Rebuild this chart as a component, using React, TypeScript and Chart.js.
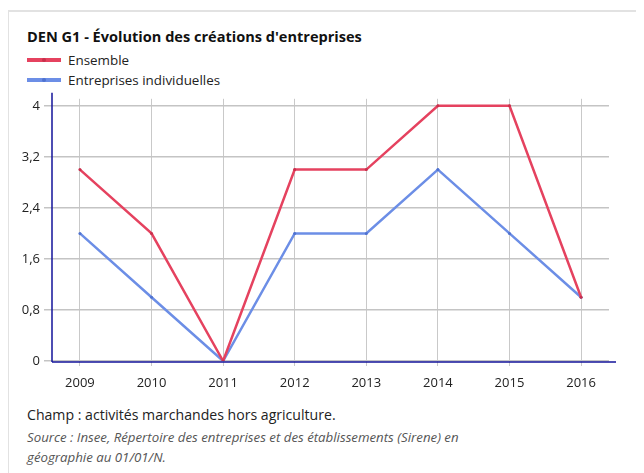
import React, { useEffect, useRef } from "react";
import { Chart, registerables } from "chart.js";

Chart.register(...registerables);

const titleText = "DEN G1 - Évolution des créations d'entreprises";
const years = [2009, 2010, 2011, 2012, 2013, 2014, 2015, 2016];
const ensemble = [3, 2, 0, 3, 3, 4, 4, 1];
const individuelles = [2, 1, 0, 2, 2, 3, 2, 1];
const seriesNames = ["Ensemble", "Entreprises individuelles"];
const seriesColors = ["#e5425f", "#6c8ee6"];
const pointColors = ["#c8304c", "#4f72d0"];
const yTicks = [0, 0.8, 1.6, 2.4, 3.2, 4];
const footerChamp = "Champ : activités marchandes hors agriculture.";
const footerSource1 = "Source : Insee, Répertoire des entreprises et des établissements (Sirene) en";
const footerSource2 = "géographie au 01/01/N.";

const FONT = "'Open Sans', 'Noto Sans', sans-serif";

const axisLines = {
  id: "axisLines",
  beforeDatasetsDraw(chart: any) {
    const { ctx, chartArea } = chart;
    ctx.save();
    ctx.strokeStyle = "#15159a";
    ctx.lineWidth = 1.5;
    ctx.beginPath();
    ctx.moveTo(chartArea.left, chartArea.top - 6);
    ctx.lineTo(chartArea.left, chartArea.bottom + 1);
    ctx.moveTo(chartArea.left, chartArea.bottom + 1);
    ctx.lineTo(chartArea.right + 7, chartArea.bottom + 1);
    ctx.stroke();
    ctx.restore();
  },
};

function ChartCanvas() {
  const ref = useRef<HTMLCanvasElement | null>(null);
  useEffect(() => {
    if (!ref.current) return;
    const series = [ensemble, individuelles];
    const chart = new Chart(ref.current, {
      type: "line",
      data: {
        datasets: series.map((vals, i) => ({
          label: seriesNames[i],
          data: years.map((y, j) => ({ x: y, y: vals[j] })),
          borderColor: seriesColors[i],
          backgroundColor: seriesColors[i],
          pointBackgroundColor: pointColors[i],
          pointBorderWidth: 0,
          pointRadius: 1.5,
          borderWidth: 2.5,
          tension: 0,
        })),
      },
      options: {
        animation: false,
        responsive: false,
        maintainAspectRatio: false,
        layout: { padding: { top: 5, right: 35, left: 0, bottom: 0 } },
        plugins: {
          legend: { display: false },
          title: { display: false },
          tooltip: { enabled: false },
        },
        scales: {
          x: {
            type: "linear",
            min: 2008.61,
            max: 2016.39,
            afterBuildTicks: (scale: any) => {
              scale.ticks = years.map((v) => ({ value: v }));
            },
            afterFit: (scale: any) => {
              scale.height = 39;
            },
            grid: { color: "#c9c9c9", lineWidth: 1, tickLength: 5 },
            border: { display: false },
            ticks: {
              color: "#222",
              font: { family: FONT, size: 13 },
              padding: 9,
              maxRotation: 0,
              autoSkip: false,
              callback: (v: any) => String(v),
            },
          },
          y: {
            type: "linear",
            min: 0,
            max: 4.11,
            afterBuildTicks: (scale: any) => {
              scale.ticks = yTicks.map((v) => ({ value: v }));
            },
            afterFit: (scale: any) => {
              scale.width = 42;
            },
            grid: { color: "#c4c4c4", lineWidth: 1.5, tickLength: 8 },
            border: { display: false },
            ticks: {
              color: "#222",
              font: { family: FONT, size: 13 },
              padding: 4,
              callback: (v: any) => String(Math.round(Number(v) * 10) / 10).replace(".", ","),
            },
          },
        },
      },
      plugins: [axisLines],
    } as any);
    return () => chart.destroy();
  }, []);
  return (
    <canvas
      ref={ref}
      width={634}
      height={313}
      style={{ position: "absolute", left: 2, top: 79, width: 634, height: 313 }}
    />
  );
}

export default function App() {
  return (
    <div
      style={{
        position: "relative",
        width: 636,
        height: 465,
        overflow: "hidden",
        fontFamily: FONT,
        color: "#222",
      }}
    >
      <div
        style={{
          position: "absolute",
          left: -1,
          top: 2,
          width: 700,
          height: 600,
          borderTop: "2px solid #e2e2e2",
          borderLeft: "2px solid #e2e2e2",
        }}
      />
      <div
        style={{
          position: "absolute",
          left: 19,
          top: 18,
          lineHeight: "20px",
          fontSize: 14.55,
          fontWeight: 700,
          whiteSpace: "nowrap",
          color: "#111",
        }}
      >
        {titleText}
      </div>
      {seriesNames.map((name, i) => (
        <div
          key={name}
          style={{
            position: "absolute",
            left: 19,
            top: 42 + i * 20,
            height: 20,
            lineHeight: "20px",
            fontSize: 13.4,
            whiteSpace: "nowrap",
            display: "flex",
            alignItems: "center",
          }}
        >
          <span
            style={{
              position: "relative",
              display: "inline-block",
              width: 34,
              height: 4,
              background: seriesColors[i],
              marginRight: 7,
            }}
          >
            <span
              style={{
                position: "absolute",
                left: 15,
                top: 0,
                width: 4,
                height: 4,
                borderRadius: 2,
                background: pointColors[i],
              }}
            />
          </span>
          <span>{name}</span>
        </div>
      ))}
      <ChartCanvas />
      <div
        style={{
          position: "absolute",
          left: 19,
          top: 397,
          lineHeight: "20px",
          fontSize: 14.1,
          whiteSpace: "nowrap",
        }}
      >
        {footerChamp}
      </div>
      <div
        style={{
          position: "absolute",
          left: 19,
          top: 419,
          lineHeight: "20px",
          fontSize: 13.25,
          fontStyle: "italic",
          color: "#555",
          whiteSpace: "nowrap",
        }}
      >
        <div>{footerSource1}</div>
        <div>{footerSource2}</div>
      </div>
    </div>
  );
}
